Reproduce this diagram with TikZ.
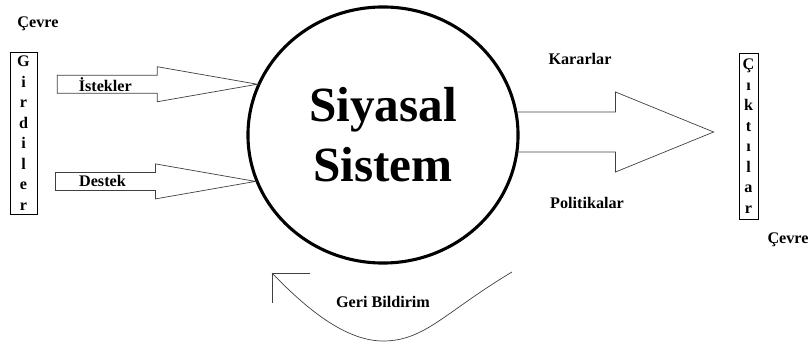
\documentclass[tikz,border=0pt]{standalone}
\usepackage{fontspec}
\setmainfont{Liberation Serif}
\usepackage{tikz}
\usetikzlibrary{positioning, calc, shapes.geometric}

\begin{document}
\begin{tikzpicture}[x=0.025cm, y=-0.025cm,
        lbl/.style = {font=\bfseries\fontsize{11.5}{13}\selectfont},
        blockarrow/.style = {draw=black!75, line width=0.5pt},
        letterbox/.style = {draw, rectangle, inner sep=0pt, align=center,
        font=\bfseries\fontsize{11.5}{14.6}\selectfont}]
        \useasboundingbox (0,0) rectangle (811,347);
        % system
        \node [draw, ellipse, line width=2.2pt, minimum width = 6.75 cm,
        minimum height = 6.4 cm, align=center,
        font=\bfseries\fontsize{35}{42.5}\selectfont] (Y) at (383,135)
        {Siyasal\\Sistem};
        % inputs
        \node [letterbox, minimum width = 0.675 cm, minimum height = 4.05 cm]
        (girdi) at (23.5,133) {G\\i\\r\\d\\i\\l\\e\\r};
        \node [lbl] (cevre1) at (38,24) {Çevre};
        \coordinate (istip) at (Y.158);
        \coordinate (destip) at (Y.200);
        \draw [blockarrow] (istip) -- ++(-100,-17.5) -- ++(0,8.5) -- ++(-100,0)
        -- ++(0,18) -- ++(100,0) -- ++(0,8.5) -- cycle;
        \node [lbl] (istek) at ($(istip)+(-152,0)$) {İstekler};
        \draw [blockarrow] (destip) -- ++(-100,-17.5) -- ++(0,8.5) -- ++(-100,0)
        -- ++(0,18) -- ++(100,0) -- ++(0,8.5) -- cycle;
        \node [lbl] (destek) at ($(destip)+(-153,0)$) {Destek};
        % outputs
        \draw [blockarrow] ($(Y.east)+(-2,-23)$) -- ++(98,0) -- ++(0,-20)
        -- ++(98,40) -- ++(-98,40) -- ++(0,-20) -- ++(-99,0);
        \node [lbl] (karar) at (580,59) {Kararlar};
        \node [lbl] (politika) at (587,203) {Politikalar};
        \node [letterbox, minimum width = 0.475 cm, minimum height = 4.15 cm]
        (cikti) at (748.5,136) {Ç\\ı\\k\\t\\ı\\l\\a\\r};
        \node [lbl] (cevre2) at (788,240) {Çevre};
        % feedback
        \coordinate (fbstart) at (512,272);
        \coordinate (fbtip) at (272,273);
        \draw [blockarrow] (fbstart) .. controls (445,312) and (425,341) ..
        (383,341) .. controls (342,341) and (300,302) .. (fbtip);
        \draw [blockarrow] ($(fbtip)+(38,0)$) -- (fbtip) -- ++(0,30);
        \node [lbl] (geri) at (383,302) {Geri Bildirim};
\end{tikzpicture}
\end{document}
